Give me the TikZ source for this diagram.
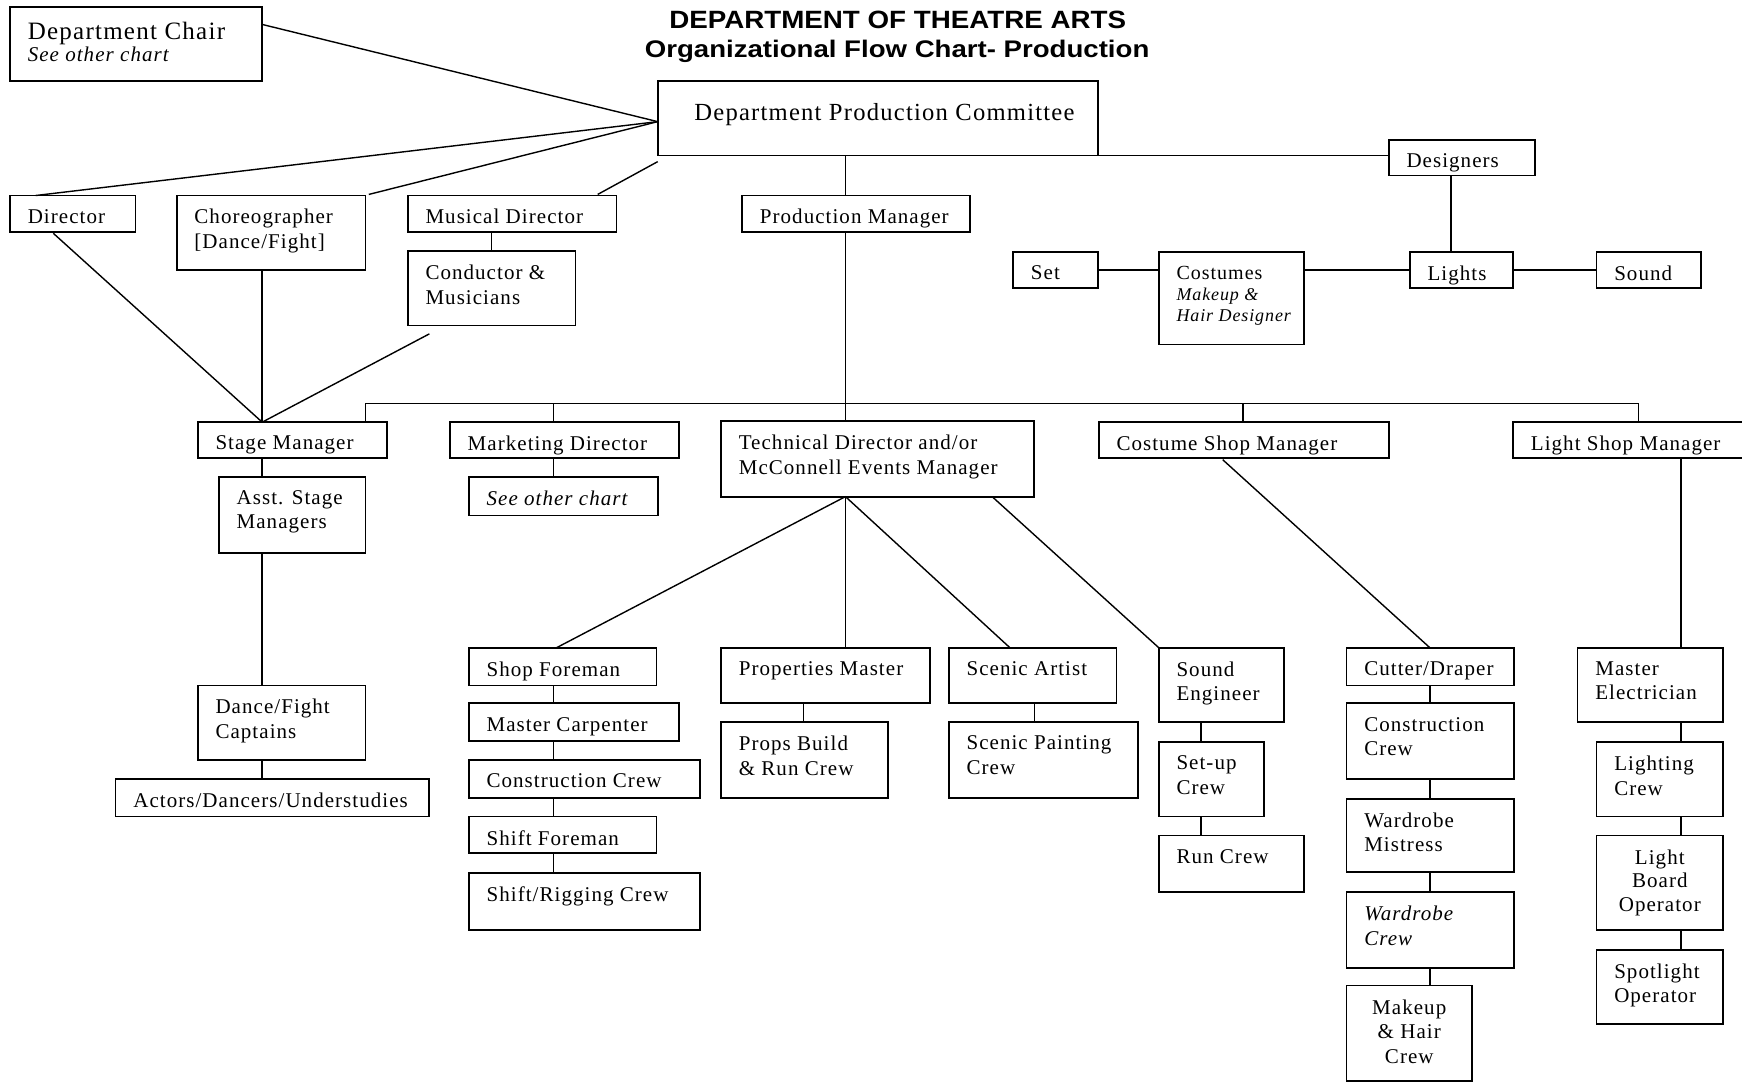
\documentclass[tikz,border=0pt]{standalone}
\usepackage{fontspec}
\usepackage{graphicx}
\setmainfont{Liberation Serif}[LetterSpace=5]
\setsansfont{Liberation Sans}
\usetikzlibrary{calc}
\newcommand\obox[5]{%
  \node[orgbox, minimum width={(#4-#2)*1.111pt}, minimum height={(#5-#3)*1.111pt}] (#1) at ({(#2+#4)/2},{(#3+#5)/2}) {};}
\newcommand\otext[3][]{%
  \node[boxtext, anchor=north west, #1] (#2-t) at ($(#2.north west)+(16,12.5)$) {#3};}
\begin{document}
\begin{tikzpicture}[x=1.111pt, y=-1.111pt,
  orgbox/.style={draw, line width=1.8pt, inner sep=0pt, outer sep=0pt},
  boxtext/.style={inner sep=0pt, outer sep=0pt, align=left, font=\fontsize{21}{24.5}\selectfont},
  link/.style={line width=1.4pt},
  titletext/.style={inner sep=0pt, font=\sffamily\bfseries}]
\useasboundingbox (0,0) rectangle (1568,974);
\fill[white] (0,0) rectangle (1568,974);
\clip (0,0) rectangle (1568,974);

% title
\node[titletext, anchor=base, font=\sffamily\bfseries\fontsize{25}{30}\selectfont] (title1) at (808,25.5) {\scalebox{1.11}[1]{DEPARTMENT OF THEATRE ARTS}};
\node[titletext, anchor=base, font=\sffamily\bfseries\fontsize{24}{30}\selectfont] (title2) at (807.5,51.6) {\scalebox{1.15}[1]{Organizational Flow Chart- Production}};

% boxes
\obox{chair}{9}{6}{236}{73}
\obox{dpc}{592}{73}{988}{140}
\obox{designers}{1250}{126}{1382}{158}
\obox{director}{9}{176}{122}{209}
\obox{choreo}{159}{176}{329}{243}
\obox{musdir}{367}{176}{555}{209}
\obox{conductor}{367}{226}{518}{293}
\obox{prodmgr}{668}{176}{873}{209}
\obox{set}{912}{227}{988}{259}
\obox{costumes}{1043}{227}{1174}{310}
\obox{lights}{1269}{227}{1362}{259}
\obox{sound}{1437}{227}{1531}{259}
\obox{stagemgr}{178}{380}{348}{412}
\obox{marketing}{405}{380}{611}{412}
\obox{td}{649}{379}{931}{447}
\obox{costshop}{989}{380}{1250}{412}
\obox{lightshop}{1362}{380}{1590}{412}
\obox{asst}{197}{429}{329}{498}
\obox{mkother}{422}{429}{592}{464}
\obox{dance}{178}{617}{329}{684}
\obox{actors}{104}{701}{386}{735}
\obox{shopfore}{422}{583}{591}{617}
\obox{mcarp}{422}{633}{611}{667}
\obox{constr}{422}{684}{630}{718}
\obox{shiftfore}{422}{735}{591}{768}
\obox{rigging}{422}{786}{630}{837}
\obox{propsm}{649}{583}{837}{633}
\obox{propsb}{649}{650}{799}{718}
\obox{scenic}{854}{583}{1005}{633}
\obox{scenicp}{854}{650}{1024}{718}
\obox{sndeng}{1043}{583}{1156}{650}
\obox{setup}{1043}{668}{1138}{735}
\obox{runcrew}{1043}{752}{1174}{803}
\obox{cutter}{1212}{583}{1363}{617}
\obox{cconstr}{1212}{633}{1363}{701}
\obox{wmist}{1212}{719}{1363}{785}
\obox{wcrew}{1212}{803}{1363}{871}
\obox{makeup}{1212}{887}{1325}{973}
\obox{mastel}{1420}{583}{1551}{650}
\obox{lcrew}{1437}{668}{1551}{735}
\obox{lboard}{1437}{752}{1551}{837}
\obox{spot}{1437}{855}{1551}{922}

% texts
\node[boxtext, anchor=north west, font=\fontsize{25}{28}\selectfont] (chair-t) at ($(chair.north west)+(16,14)$) {Department Chair};
\node[boxtext, anchor=base west, font=\itshape\fontsize{21}{24}\selectfont] (chair-t2) at (25,55.5) {See other chart};
\node[boxtext, anchor=north west, font=\fontsize{24.6}{28}\selectfont] (dpc-t) at ($(dpc.north west)+(33,20)$) {Department Production Committee};
\otext{designers}{Designers}
\otext{director}{Director}
\otext{choreo}{Choreographer\\{[}Dance/Fight{]}}
\otext{musdir}{Musical Director}
\otext{conductor}{Conductor \&\\Musicians}
\otext{prodmgr}{Production Manager}
\otext{set}{Set}
\node[boxtext, anchor=north west, font=\fontsize{18}{21}\selectfont] (costumes-t) at ($(costumes.north west)+(16,12.5)$) {{\fontsize{20}{21}\selectfont Costumes}\\\textit{Makeup \&}\\\textit{Hair Designer}};
\otext{lights}{Lights}
\otext{sound}{Sound}
\otext{stagemgr}{Stage Manager}
\otext{marketing}{Marketing Director}
\otext{td}{Technical Director and/or\\McConnell Events Manager}
\otext{costshop}{Costume Shop Manager}
\otext{lightshop}{Light Shop Manager}
\otext{asst}{Asst. Stage\\Managers}
\otext[font=\itshape\fontsize{21}{24.5}\selectfont]{mkother}{See other chart}
\otext{dance}{Dance/Fight\\Captains}
\otext{actors}{Actors/Dancers/Understudies}
\otext{shopfore}{Shop Foreman}
\otext{mcarp}{Master Carpenter}
\otext{constr}{Construction Crew}
\otext{shiftfore}{Shift Foreman}
\otext{rigging}{Shift/Rigging Crew}
\otext{propsm}{Properties Master}
\otext{propsb}{Props Build\\\& Run Crew}
\otext{scenic}{Scenic Artist}
\otext{scenicp}{Scenic Painting\\Crew}
\otext{sndeng}{Sound\\Engineer}
\otext{setup}{Set-up\\Crew}
\otext{runcrew}{Run Crew}
\otext{cutter}{Cutter/Draper}
\otext{cconstr}{Construction\\Crew}
\otext{wmist}{Wardrobe\\Mistress}
\otext[font=\itshape\fontsize{21}{24.5}\selectfont]{wcrew}{Wardrobe\\Crew}
\node[boxtext, align=center, anchor=north] (makeup-t) at ($(makeup.north)+(0,13)$) {Makeup\\\& Hair\\Crew};
\otext{mastel}{Master\\Electrician}
\otext{lcrew}{Lighting\\Crew}
\node[boxtext, align=center, anchor=north, font=\fontsize{21}{23.5}\selectfont] (lboard-t) at ($(lboard.north)+(0,13)$) {Light\\Board\\Operator};
\otext{spot}{Spotlight\\Operator}

% column coordinates
\coordinate (hub) at ($(dpc.west)+(0,3)$);
\coordinate (smx) at (236,0);
\coordinate (pmx) at (761,0);
\coordinate (mkx) at (498,0);
\coordinate (csx) at (1119,0);
\coordinate (busL) at (329,363);
\coordinate (busR) at (1475,363);
\coordinate (shx) at (498,0);
\coordinate (prx) at (723,0);
\coordinate (scx) at (931,0);
\coordinate (sdx) at (1081,0);
\coordinate (cux) at (1287,0);
\coordinate (lix) at (1513,0);
\coordinate (dsx) at (1306,0);
\coordinate (dy) at (0,243);

% connectors to the committee
\draw[link] ($(chair.north east)+(0,16)$) -- (hub);
\draw[link] ($(director.north west)+(23,0)$) -- (hub);
\draw[link] ($(choreo.north east)+(3,-1)$) -- (hub);
\draw[link] ($(musdir.north east)+(-17,-1)$) -- ($(dpc.south west)+(0,5.5)$);

% to stage manager
\draw[link] ($(director.south west)+(39,1)$) -- (stagemgr.north -| smx);
\draw[link] (choreo.south -| smx) -- (stagemgr.north -| smx);
\draw[link] ($(conductor.south)+(-56,7.5)$) -- (stagemgr.north -| smx);
\draw[link] (musdir.south -| conductor.north) -- (conductor.north);

% production manager spine and bus
\draw[link] (dpc.south -| pmx) -- (prodmgr.north -| pmx);
\draw[link] (prodmgr.south -| pmx) -- (td.north -| pmx);
\draw[link] (stagemgr.north -| busL) -- (busL) -- (busR) -- (lightshop.north -| busR);
\draw[link] (marketing.north -| mkx) -- (mkx |- busL);
\draw[link] (costshop.north -| csx) -- (csx |- busL);
\draw[link] (marketing.south -| mkx) -- (mkother.north -| mkx);

% stage manager column
\draw[link] (stagemgr.south -| smx) -- (asst.north -| smx);
\draw[link] (asst.south -| smx) -- (dance.north -| smx);
\draw[link] (dance.south -| smx) -- (actors.north -| smx);

% technical director fan
\coordinate (tdapex) at (td.south -| pmx);
\draw[link] (tdapex) -- ($(shopfore.north)+(-5.5,0)$);
\draw[link] (tdapex) -- (propsm.north -| pmx);
\draw[link] (tdapex) -- ($(scenic.north west)+(55,0)$);
\draw[link] ($(td.south west)+(244,0)$) -- (sndeng.north west);

% shop column
\draw[link] (shopfore.south -| shx) -- (mcarp.north -| shx);
\draw[link] (mcarp.south -| shx) -- (constr.north -| shx);
\draw[link] (constr.south -| shx) -- (shiftfore.north -| shx);
\draw[link] (shiftfore.south -| shx) -- (rigging.north -| shx);
% props, scenic, sound
\draw[link] (propsm.south -| prx) -- (propsb.north -| prx);
\draw[link] (scenic.south -| scx) -- (scenicp.north -| scx);
\draw[link] (sndeng.south -| sdx) -- (setup.north -| sdx);
\draw[link] (setup.south -| sdx) -- (runcrew.north -| sdx);

% costume shop
\draw[link] ($(costshop.south west)+(111.6,1.8)$) -- (cutter.north -| cux);
\draw[link] (cutter.south -| cux) -- (cconstr.north -| cux);
\draw[link] (cconstr.south -| cux) -- (wmist.north -| cux);
\draw[link] (wmist.south -| cux) -- (wcrew.north -| cux);
\draw[link] (wcrew.south -| cux) -- (makeup.north -| cux);

% light shop
\draw[link] (lightshop.south -| lix) -- (mastel.north -| lix);
\draw[link] (mastel.south -| lix) -- (lcrew.north -| lix);
\draw[link] (lcrew.south -| lix) -- (lboard.north -| lix);
\draw[link] (lboard.south -| lix) -- (spot.north -| lix);

% designers
\draw[link] (dpc.south east) -- (dpc.south east -| designers.west);
\draw[link] (designers.south -| dsx) -- (lights.north -| dsx);
\draw[link] (set.east |- dy) -- (costumes.west |- dy);
\draw[link] (costumes.east |- dy) -- (lights.west |- dy);
\draw[link] (lights.east |- dy) -- (sound.west |- dy);
\end{tikzpicture}
\end{document}
